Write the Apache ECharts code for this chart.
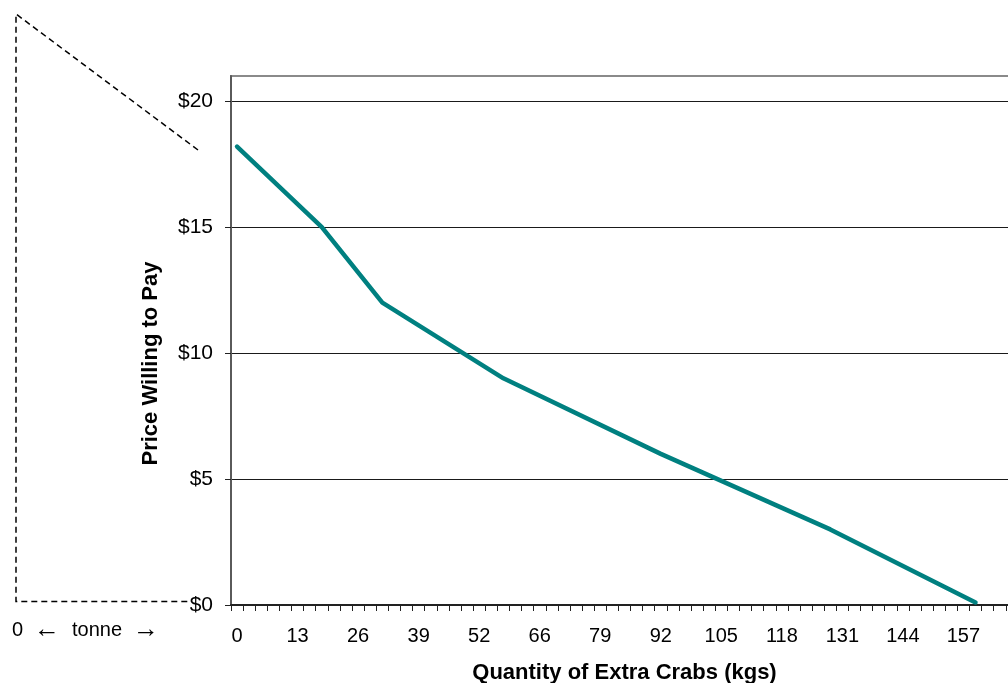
<!DOCTYPE html>
<html>
<head>
<meta charset="utf-8">
<script src="https://cdn.jsdelivr.net/npm/echarts@6/dist/echarts.min.js"></script>
<style>
  html, body { margin: 0; padding: 0; background: #ffffff; }
  #chart { width: 1008px; height: 683px; }
</style>
</head>
<body>
<div id="chart"></div>
<script>
// Quantity axis: one category per 2.62 kg step, labelled every fifth step
const qtyStepKg = 2.62;
const qtyCategoryCount = 66;
const xTickLabels = ['0', '13', '26', '39', '52', '66', '79', '92', '105', '118', '131', '144', '157'];

// Price axis ticks ($)
const yTickValues = [0, 5, 10, 15, 20];
const yAxisMax = 21;

// Demand curve corners: quantity (kg) and price willing to pay ($)
const demandQtyKg = [0, 18.3, 31.4, 57.6, 91.7, 128.4, 159.8];
const demandPrice = [18.2, 15, 12, 9, 6, 3, 0.1];

const qtyCategories = [];
for (let i = 0; i < qtyCategoryCount; i++) qtyCategories.push((i * qtyStepKg).toFixed(2));

const demandData = demandQtyKg.map((kg, k) => [Math.round(kg / qtyStepKg), demandPrice[k]]);

const FONT = '"Liberation Sans", Arial, sans-serif';

const chart = echarts.init(document.getElementById('chart'), null, { renderer: 'canvas' });

chart.setOption({
  animation: false,
  backgroundColor: '#ffffff',
  grid: {
    left: 231,
    top: 76,
    width: 799,
    height: 529,
    outerBoundsMode: 'none',
    containLabel: false,
    show: true,
    borderColor: '#8a8a8a',
    borderWidth: 2,
    backgroundColor: 'transparent'
  },
  xAxis: {
    type: 'category',
    data: qtyCategories,
    boundaryGap: true,
    name: 'Quantity of Extra Crabs (kgs)',
    nameLocation: 'middle',
    nameGap: 57,
    nameTextStyle: { fontFamily: FONT, fontSize: 22, fontWeight: 'bold', color: '#000', padding: [0, 12, 0, 0] },
    axisLine: { show: true, lineStyle: { color: '#222', width: 2 } },
    axisTick: { show: true, interval: 0, length: 6, lineStyle: { color: '#222', width: 1 } },
    axisLabel: {
      interval: (idx) => idx % 5 === 0,
      formatter: (val, idx) => xTickLabels[idx / 5] ?? '',
      margin: 21,
      fontFamily: FONT,
      fontSize: 20,
      color: '#000'
    },
    splitLine: { show: false }
  },
  yAxis: {
    type: 'value',
    min: 0,
    max: yAxisMax,
    name: 'Price Willing to Pay',
    nameLocation: 'middle',
    nameRotate: 90,
    nameGap: 69,
    nameTextStyle: { fontFamily: FONT, fontSize: 22, fontWeight: 'bold', color: '#000', padding: [0, 46, 0, 0] },
    axisLine: { show: true, lineStyle: { color: '#5a5a5a', width: 2 } },
    axisTick: { show: true, customValues: yTickValues, length: 6, lineStyle: { color: '#222', width: 1 } },
    axisLabel: {
      customValues: yTickValues,
      formatter: (v) => '$' + v,
      margin: 18,
      fontFamily: FONT,
      fontSize: 21,
      color: '#000'
    },
    splitLine: {
      show: true,
      showMinLine: false,
      showMaxLine: true,
      lineStyle: { color: '#1a1a1a', width: 1 }
    }
  },
  series: [{
    type: 'line',
    data: demandData,
    symbol: 'none',
    smooth: false,
    lineStyle: { color: '#008080', width: 4.5, cap: 'round', join: 'round' },
    z: 5
  }],
  graphic: [
    {
      type: 'polyline',
      shape: { points: [[198, 150], [16, 14], [16, 601.5], [188, 601.5]] },
      style: { stroke: '#000', lineWidth: 1.5, lineDash: [6, 4], fill: null }
    },
    { type: 'text', left: 12, top: 620, style: { text: '0', fontFamily: FONT, fontSize: 20, fill: '#000' } },
    { type: 'text', x: 47, y: 630, style: { text: '\u2190', fontFamily: FONT, fontSize: 26, fill: '#000', align: 'center', verticalAlign: 'middle' } },
    { type: 'text', left: 72, top: 620, style: { text: 'tonne', fontFamily: FONT, fontSize: 20, fill: '#000' } },
    { type: 'text', x: 146, y: 630, style: { text: '\u2192', fontFamily: FONT, fontSize: 26, fill: '#000', align: 'center', verticalAlign: 'middle' } }
  ]
});
</script>
</body>
</html>
